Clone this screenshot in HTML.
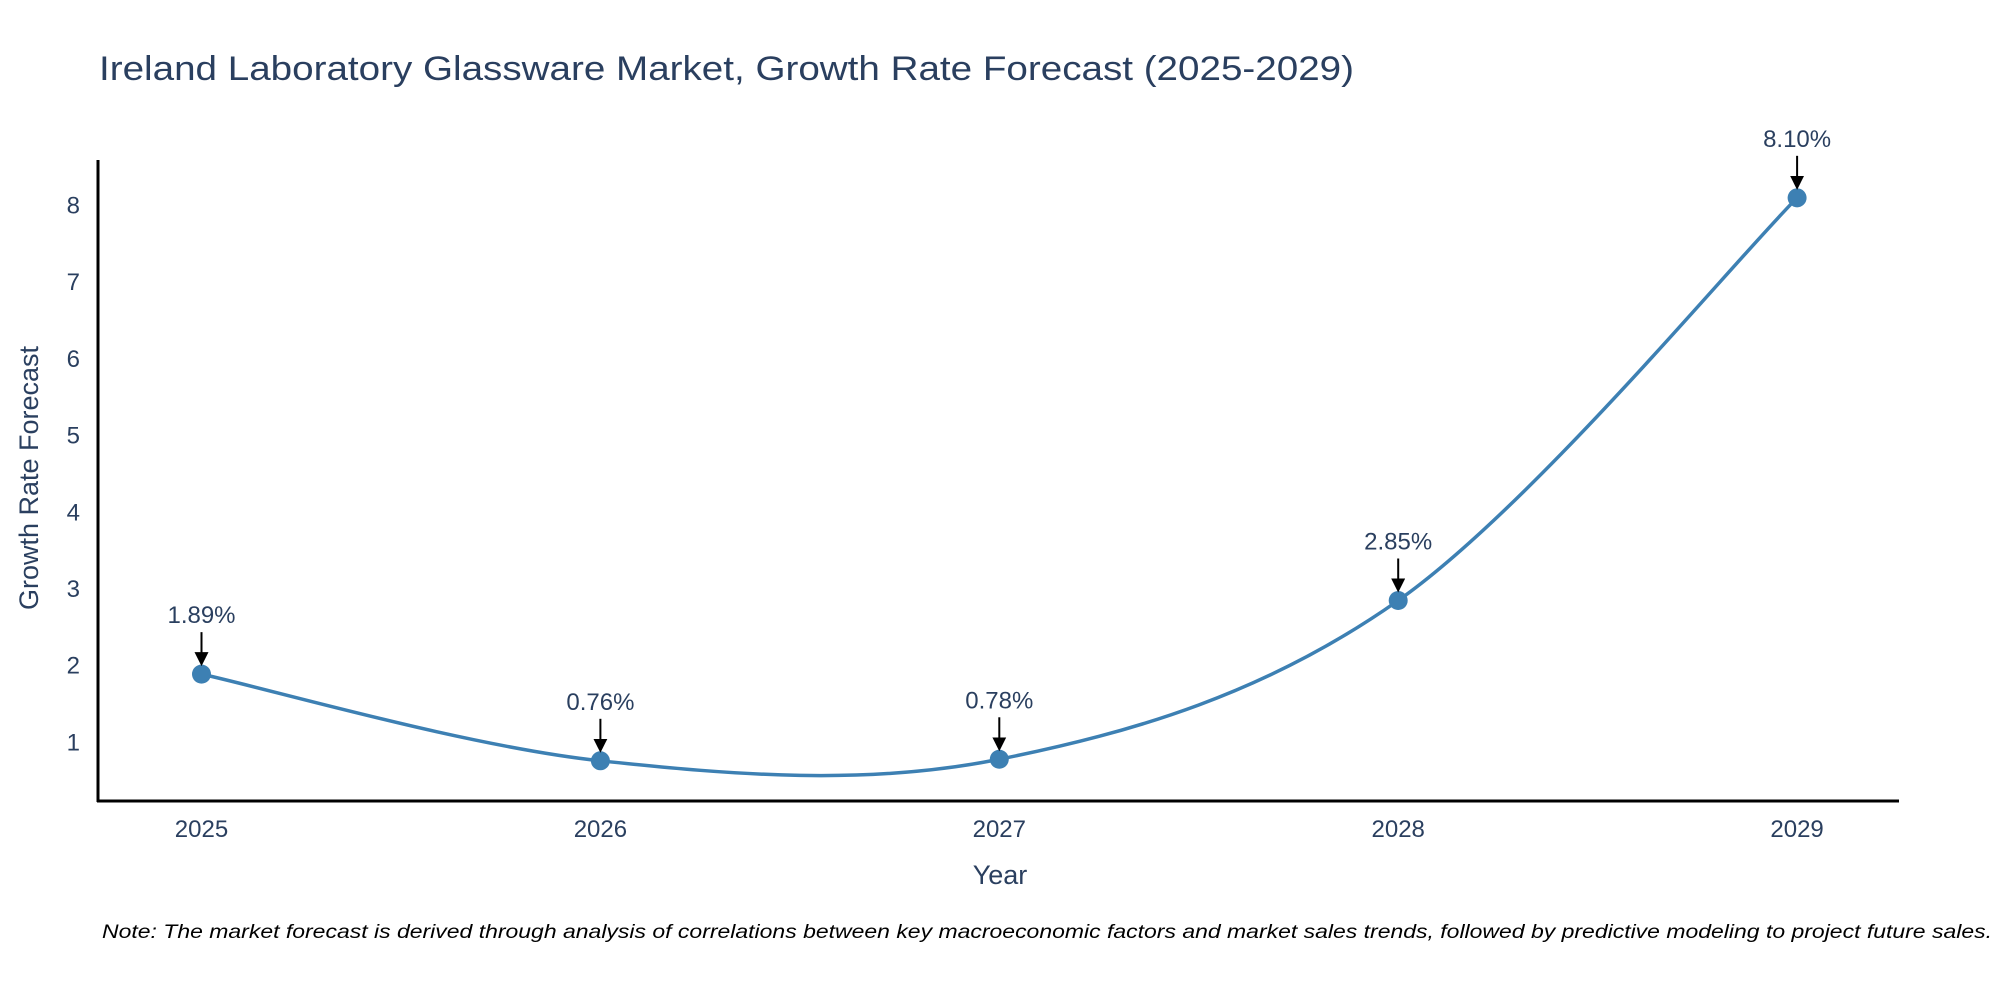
<!DOCTYPE html>
<html><head><meta charset="utf-8"><style>
html,body{margin:0;padding:0;background:#fff;}
svg{display:block;font-family:"Liberation Sans",sans-serif;}
</style></head><body>
<svg id="chart" width="2000" height="1000" viewBox="0 0 2000 1000">
<defs><marker id="ah" markerWidth="7" markerHeight="7" refX="5" refY="3.5" orient="auto" markerUnits="strokeWidth"><path d="M0,0 L7,3.5 L0,7 z" fill="#000"/></marker></defs>
<text x="99" y="80" font-size="34" fill="#2a3f5f" textLength="1255" lengthAdjust="spacingAndGlyphs">Ireland Laboratory Glassware Market, Growth Rate Forecast (2025-2029)</text>
<g id="plot"></g>
<text x="1000" y="884" font-size="27" fill="#2a3f5f" text-anchor="middle">Year</text>
<text transform="translate(38,478) rotate(-90)" font-size="27" fill="#2a3f5f" text-anchor="middle">Growth Rate Forecast</text>
<text x="102" y="938" font-size="19" font-style="italic" fill="#000" textLength="1890" lengthAdjust="spacingAndGlyphs">Note: The market forecast is derived through analysis of correlations between key macroeconomic factors and market sales trends, followed by predictive modeling to project future sales.</text>
</svg>
<script>
const years = [2025, 2026, 2027, 2028, 2029];
const values = [1.89, 0.76, 0.78, 2.85, 8.10];
const labels = ["1.89%", "0.76%", "0.78%", "2.85%", "8.10%"];
const yTicks = [1, 2, 3, 4, 5, 6, 7, 8];

const NS = "http://www.w3.org/2000/svg";
const g = document.getElementById('plot');
const X0 = 98, X1 = 1899, YB = 801;
const xs = v => 201.5 + (v - 2025) * 398.9;
const ys = v => 819.1 - v * 76.7;
function mk(tag, attrs, parent) {
  const e = document.createElementNS(NS, tag);
  for (const k in attrs) e.setAttribute(k, attrs[k]);
  (parent || g).appendChild(e);
  return e;
}
yTicks.forEach(t => {
  const e = mk('text', {x: X0 - 18, y: ys(t) + 8, 'font-size': 24, fill: '#2a3f5f', 'text-anchor': 'end'});
  
  
  e.textContent = t;
});
years.forEach(yr => {
  const e = mk('text', {x: xs(yr), y: YB + 36, 'font-size': 24, fill: '#2a3f5f', 'text-anchor': 'middle'});
  
  
  e.textContent = yr;
});
const pts = years.map((yr, i) => [xs(yr), ys(values[i])]);
let d = 'M' + pts[0][0] + ',' + pts[0][1];
for (let i = 0; i < pts.length - 1; i++) {
  const p0 = pts[Math.max(0, i - 1)], p1 = pts[i], p2 = pts[i + 1], p3 = pts[Math.min(pts.length - 1, i + 2)];
  const c1 = [p1[0] + (p2[0] - p0[0]) / 6, p1[1] + (p2[1] - p0[1]) / 6];
  const c2 = [p2[0] - (p3[0] - p1[0]) / 6, p2[1] - (p3[1] - p1[1]) / 6];
  d += ' C' + c1 + ' ' + c2 + ' ' + p2;
}
const line = mk('path', {d: d, fill: 'none', stroke: '#3d80b3', 'stroke-width': 3.5});


pts.forEach((p, i) => {
  const c = mk('circle', {cx: p[0], cy: p[1], r: 9.5, fill: '#3d80b3'});
  
  
  const a = mk('line', {x1: p[0], y1: p[1] - 42, x2: p[0], y2: p[1] - 12, stroke: '#000', 'stroke-width': 2, 'marker-end': 'url(#ah)'});
  
  
  const t = mk('text', {x: p[0], y: p[1] - 51, 'font-size': 24, fill: '#2a3f5f', 'text-anchor': 'middle'});
  
  
  t.textContent = labels[i];
});
const ya = mk('line', {x1: X0, y1: 160, x2: X0, y2: YB + 1, stroke: '#000', 'stroke-width': 3});


const xa = mk('line', {x1: X0 - 1, y1: YB, x2: X1, y2: YB, stroke: '#000', 'stroke-width': 3});


</script>
</body></html>
